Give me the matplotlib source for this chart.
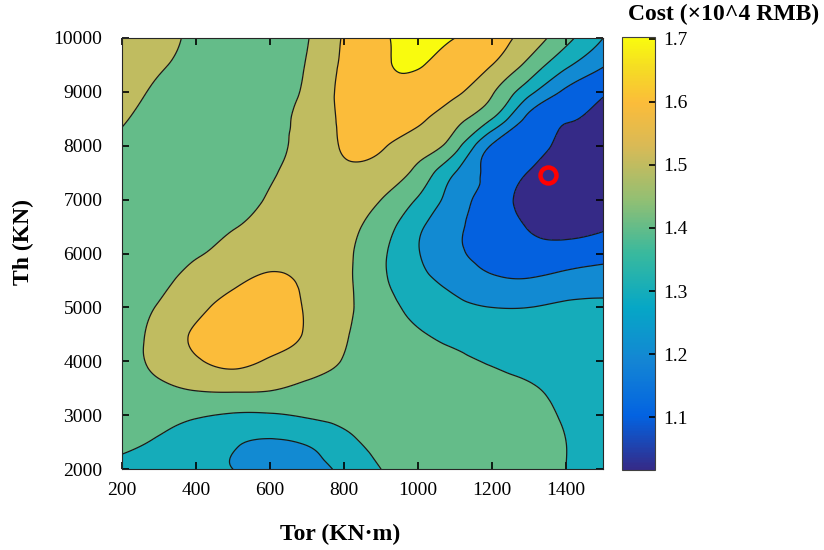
import numpy as np
import matplotlib.pyplot as plt
import matplotlib.tri as mtri
from matplotlib.colors import LinearSegmentedColormap, Normalize
from matplotlib.cm import ScalarMappable

plt.rcParams['font.family'] = ['Liberation Serif', 'DejaVu Serif']

# grid (Tor along x, Th along y)
tor = [200, 300, 400, 500, 600, 700, 800, 900, 1000, 1100, 1200, 1300, 1400, 1500]
th = [2000, 2500, 3000, 3500, 4000, 4500, 5000, 5500, 6000,
      6500, 7000, 7500, 8000, 8500, 9000, 9500, 10000]

# cost (x10^4 RMB), one row per Th value, bottom to top
cost = [
    [1.37, 1.34, 1.31, 1.30, 1.26, 1.27, 1.32, 1.40, 1.43, 1.45, 1.44, 1.42, 1.40, 1.37],
    [1.42, 1.39, 1.35, 1.31, 1.29, 1.31, 1.37, 1.43, 1.45, 1.46, 1.45, 1.43, 1.40, 1.36],
    [1.45, 1.43, 1.41, 1.39, 1.39, 1.41, 1.43, 1.45, 1.46, 1.46, 1.45, 1.43, 1.39, 1.36],
    [1.46, 1.48, 1.51, 1.52, 1.51, 1.48, 1.47, 1.46, 1.45, 1.44, 1.43, 1.41, 1.37, 1.34],
    [1.44, 1.53, 1.59, 1.62, 1.59, 1.55, 1.495, 1.46, 1.44, 1.42, 1.39, 1.36, 1.34, 1.33],
    [1.43, 1.54, 1.61, 1.64, 1.64, 1.59, 1.51, 1.45, 1.41, 1.37, 1.34, 1.32, 1.32, 1.32],
    [1.42, 1.51, 1.58, 1.63, 1.65, 1.59, 1.52, 1.44, 1.37, 1.32, 1.30, 1.30, 1.31, 1.31],
    [1.43, 1.47, 1.54, 1.58, 1.62, 1.58, 1.52, 1.42, 1.33, 1.27, 1.22, 1.21, 1.24, 1.26],
    [1.44, 1.45, 1.49, 1.53, 1.56, 1.56, 1.52, 1.42, 1.305, 1.22, 1.16, 1.13, 1.14, 1.16],
    [1.44, 1.44, 1.46, 1.495, 1.53, 1.56, 1.53, 1.45, 1.32, 1.22, 1.15, 1.095, 1.07, 1.09],
    [1.44, 1.43, 1.44, 1.46, 1.51, 1.55, 1.55, 1.50, 1.39, 1.25, 1.15, 1.07, 1.03, 1.05],
    [1.45, 1.43, 1.43, 1.45, 1.49, 1.54, 1.58, 1.56, 1.47, 1.30, 1.17, 1.095, 1.03, 1.04],
    [1.475, 1.44, 1.43, 1.44, 1.48, 1.53, 1.61, 1.61, 1.55, 1.44, 1.19, 1.13, 1.07, 1.05],
    [1.51, 1.465, 1.44, 1.44, 1.48, 1.525, 1.62, 1.65, 1.62, 1.53, 1.40, 1.17, 1.105, 1.08],
    [1.535, 1.485, 1.45, 1.45, 1.475, 1.515, 1.63, 1.68, 1.67, 1.62, 1.51, 1.33, 1.18, 1.11],
    [1.56, 1.51, 1.47, 1.45, 1.47, 1.505, 1.62, 1.69, 1.705, 1.66, 1.60, 1.47, 1.32, 1.21],
    [1.58, 1.53, 1.48, 1.45, 1.46, 1.495, 1.61, 1.69, 1.72, 1.70, 1.64, 1.56, 1.43, 1.30],
]

levels = [1.1, 1.2, 1.3, 1.4, 1.5, 1.6, 1.7]
best_tor, best_th = 1350, 7450
cmin, cmax = 1.016, 1.702

parula = LinearSegmentedColormap.from_list('parula', [
    (0.0, '#352a87'), (0.125, '#0363e1'), (0.25, '#1485d4'),
    (0.375, '#06a7c6'), (0.5, '#38b99e'), (0.625, '#92bf73'),
    (0.75, '#d9ba56'), (0.85, '#fbbc3a'), (0.93, '#f5dc24'),
    (1.0, '#f9fb0e')])
norm = Normalize(cmin, cmax)

# triangulate the read-off grid (cells split SW-NE) and smooth it with
# matplotlib's cubic refiner
X, Y = np.meshgrid(tor, th)
Z = np.array(cost)
nr, nc = Z.shape
tris = []
for i in range(nr - 1):
    for j in range(nc - 1):
        k = i * nc + j
        tris.append([k, k + 1, k + nc + 1])
        tris.append([k, k + nc + 1, k + nc])
sx, sy = 100.0, 500.0
tri = mtri.Triangulation(X.ravel() / sx, Y.ravel() / sy, tris)
interp = mtri.CubicTriInterpolator(tri, Z.ravel(), kind='min_E')
refiner = mtri.UniformTriRefiner(tri)
tri_f, z_f = refiner.refine_field(Z.ravel(), triinterpolator=interp, subdiv=4)
tri_plot = mtri.Triangulation(tri_f.x * sx, tri_f.y * sy, tri_f.triangles)

fig = plt.figure(figsize=(8.24, 5.5), dpi=100)
ax = fig.add_axes([0.148, 0.147, 0.584, 0.784])

bounds = [0.5] + levels + [2.5]
band_colors = [parula(norm(cmin))] + [parula(norm(v)) for v in levels]
ax.tricontourf(tri_plot, z_f, levels=bounds, colors=band_colors)
ax.tricontour(tri_plot, z_f, levels=levels, colors='#1a1a1a', linewidths=0.9)

ax.plot(best_tor, best_th, 'o', ms=11.5, mfc='none', mec='#ff0000', mew=3.2)

ax.set_xlim(200, 1500)
ax.set_ylim(2000, 10000)
ax.set_xticks(range(200, 1500, 200))
ax.set_yticks(range(2000, 10001, 1000))
ax.tick_params(direction='in', length=5, width=1.2, labelsize=14,
               top=True, right=True)
ax.tick_params(axis='x', pad=9)
ax.tick_params(axis='y', pad=14)
for s in ax.spines.values():
    s.set_color('#262626')
    s.set_linewidth(0.8)
ax.set_xlabel('Tor (KN·m)', fontsize=17, fontweight='bold')
ax.xaxis.set_label_coords(0.453, -0.126)
ax.set_ylabel('Th (KN)', fontsize=17, fontweight='bold')
ax.yaxis.set_label_coords(-0.183, 0.527)

cax = fig.add_axes([0.755, 0.145, 0.040, 0.787])
sm = ScalarMappable(norm=norm, cmap=parula)
cb = fig.colorbar(sm, cax=cax, ticks=levels)
cb.ax.tick_params(direction='in', length=4, width=1.2, labelsize=14, pad=6)
cb.outline.set_edgecolor('#404040')
cb.outline.set_linewidth(0.8)
fig.text(0.762, 0.973, 'Cost (×10^4 RMB)', fontsize=17, fontweight='bold',
         ha='left', va='center')

fig.savefig('out.png', dpi=100)
